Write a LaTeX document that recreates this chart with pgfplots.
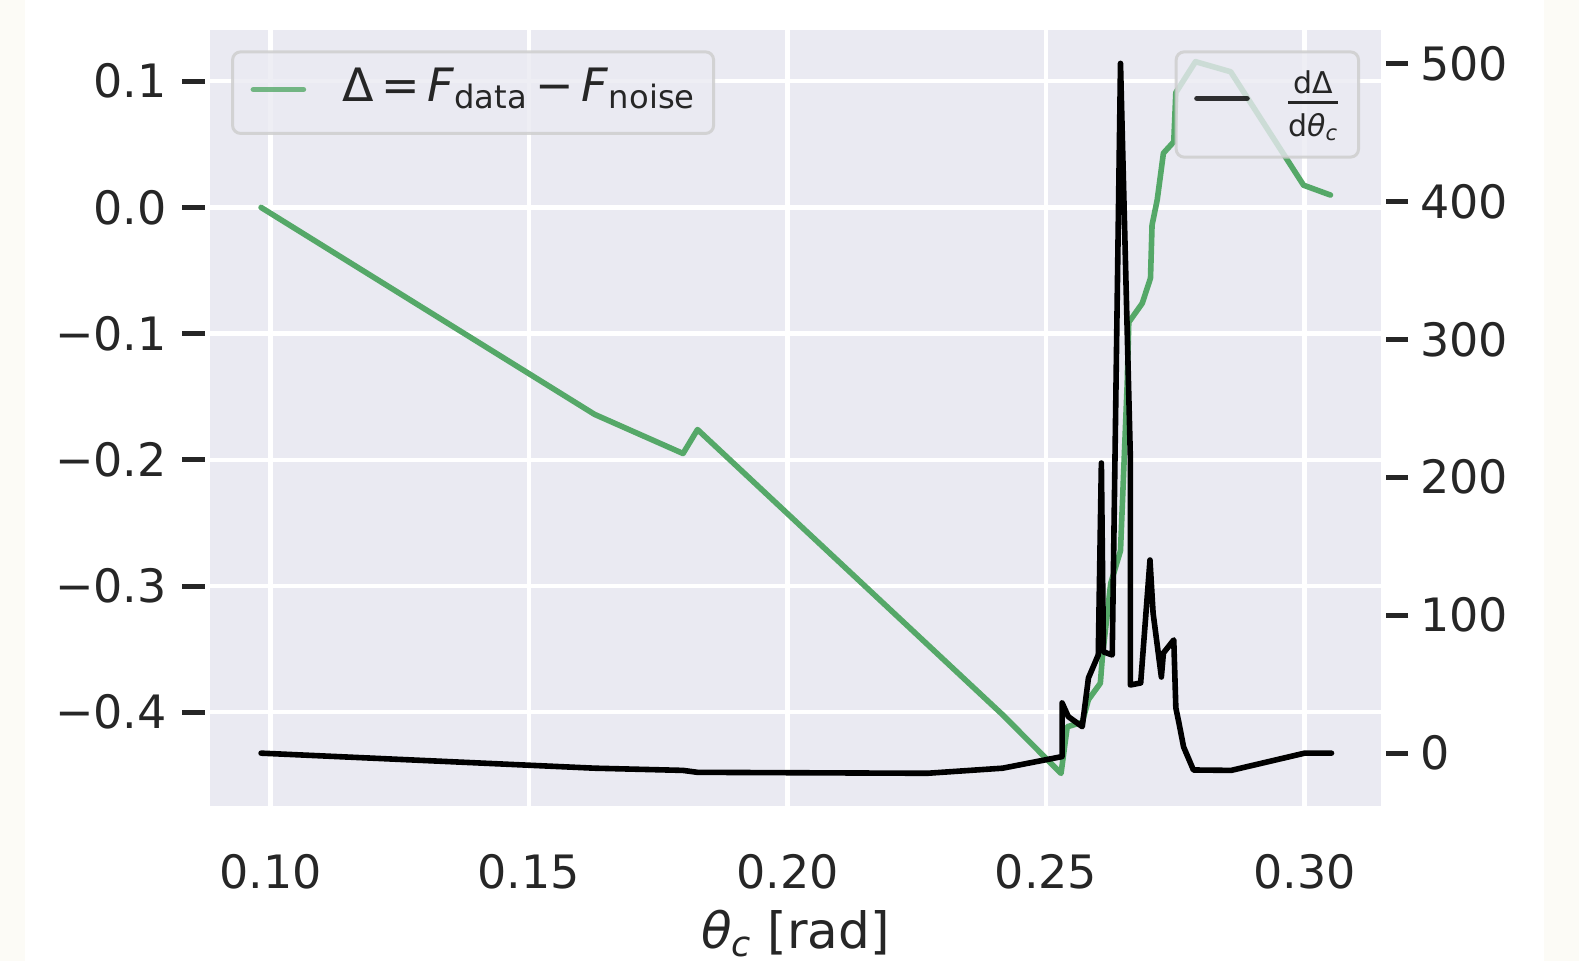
\documentclass[border=0pt]{standalone}
\usepackage{amsmath}
\usepackage{pgfplots}
\pgfplotsset{compat=1.18}
\usepackage{fontspec}
\setmainfont{DejaVu Sans}
\definecolor{bg}{HTML}{EAEAF2}
\definecolor{sgreen}{HTML}{55A868}
\definecolor{txt}{HTML}{262626}
\definecolor{leg}{HTML}{CCCCCC}
\definecolor{edgecol}{HTML}{FCFBF6}
\newcommand{\fsz}{\fontsize{23}{27.6}\selectfont}
\newcommand{\fsl}{\fontsize{25}{30}\selectfont}
\newcommand{\fss}{\fontsize{15}{18}\selectfont}

\pgfplotsset{
 common/.style={
  at={(0pt,0pt)}, anchor=south west, scale only axis, width=585pt, height=388pt,
  xmin=0.08842, xmax=0.31468,
  axis line style={draw=none},
  tick align=outside, major tick length=11.35pt,
  every tick/.style={txt, line width=2.5pt},
  ticklabel style={font=\fsz, text=txt},
  legend cell align=left,
 },
 legbox/.style={fill=bg, fill opacity=0.8, draw=leg, draw opacity=0.8, text opacity=1,
   rounded corners=4pt, line width=1.5pt, inner xsep=9pt, inner ysep=8pt,
   nodes={inner sep=0pt}, font=\fsz, text=txt,
   /tikz/every odd column/.append style={column sep=18pt}},
}

\begin{document}
\begin{tikzpicture}
\useasboundingbox (-105.25pt,-77.5pt) rectangle (684.25pt,403pt);
\fill[white] (-105.25pt,-77.5pt) rectangle (684.25pt,403pt);
\fill[edgecol] (-105.25pt,-77.5pt) rectangle (-92.75pt,403pt);
\fill[edgecol] (666.75pt,-77.5pt) rectangle (684.25pt,403pt);

\begin{axis}[common,
 axis background/.style={fill=bg},
 ymin=-0.4743, ymax=0.1406,
 xtick={0.10,0.15,0.20,0.25,0.30},
 xticklabels={0.10,0.15,0.20,0.25,0.30},
 ytick={-0.4,-0.3,-0.2,-0.1,0,0.1},
 yticklabels={−0.4,−0.3,−0.2,−0.1,0.0,0.1},
 ytick pos=left,
 grid=major, grid style={white, line width=2.2pt},
 xtick style={draw=none},
 ytick style={xshift=-2.85pt},
 xticklabel style={anchor=base, inner sep=0pt, yshift=-29.8pt},
 yticklabel style={anchor=east, inner sep=0pt, xshift=-10.3pt},
 xlabel={\textit{θ}\textsubscript{\textit{c}} [rad]},
 xlabel style={at={(axis description cs:0.5,0)}, anchor=base, yshift=-71.5pt, font=\fsl, text=txt},
 legend image code/.code={\draw[#1] (0pt,1.5pt) -- (25pt,1.5pt);},
 legend style={legbox, at={(0,1)}, anchor=north west, xshift=10.3pt, yshift=-10.2pt},
]
\addplot[sgreen, line width=2.8pt, line join=round, line cap=round] coordinates {
(0.0982,0.0) (0.1627,-0.164) (0.1798,-0.195) (0.1826,-0.176) (0.2416,-0.402)
(0.2529,-0.4485) (0.2541,-0.4115) (0.2570,-0.408) (0.2582,-0.390) (0.2605,-0.377)
(0.2609,-0.356) (0.2625,-0.298) (0.2644,-0.272) (0.2657,-0.139) (0.2660,-0.091)
(0.2686,-0.076) (0.2702,-0.056) (0.2705,-0.014) (0.2715,0.006) (0.2727,0.043)
(0.2747,0.052) (0.2751,0.091) (0.2789,0.1155) (0.2857,0.1075) (0.2998,0.0176)
(0.3050,0.0098)
};
\addlegendentry{\raisebox{6.5pt}{Δ\,=\,\textit{F}\textsubscript{data}\,−\,\textit{F}\textsubscript{noise}}}
\end{axis}

\begin{axis}[common,
 ymin=-38.3, ymax=524.2,
 axis x line=none, axis y line*=right,
 ytick={0,100,200,300,400,500},
 yticklabels={0,100,200,300,400,500},
 ytick style={xshift=2.5pt},
 yticklabel style={anchor=west, inner sep=0pt, xshift=8.3pt},
 legend image code/.code={\draw[#1] (0pt,3pt) -- (25pt,3pt);},
 legend style={legbox, at={(1,1)}, anchor=north east, xshift=-10.25pt, yshift=-10.2pt, inner ysep=9.5pt},
]
\addplot[black, line width=2.8pt, line join=round, line cap=round] coordinates {
(0.0982,0) (0.1627,-10.9) (0.1798,-12.5) (0.1826,-13.9) (0.2270,-14.6)
(0.2416,-10.9) (0.2531,-2.5) (0.2531,36.4) (0.2543,26.5) (0.2570,19.2)
(0.2582,54.5) (0.2601,71.2) (0.2607,210.3) (0.2611,73.4) (0.2628,71.2)
(0.2644,500) (0.2663,214.9) (0.2663,49.4) (0.2683,50.9) (0.2701,140.0)
(0.2707,101.6) (0.2723,55.2) (0.2727,72.6) (0.2747,82.1) (0.2751,32.8)
(0.2757,21.9) (0.2766,4.5) (0.2785,-12.2) (0.2858,-12.5) (0.3000,0) (0.3052,0)
};
\addlegendentry{\raisebox{10pt}{$\genfrac{}{}{1.2pt}{1}{\mbox{\fss dΔ\rule[-2.7pt]{0pt}{0pt}}}{\mbox{\fss d\textit{θ}\textsubscript{\textit{c}}\rule{0pt}{15.1pt}}}$}}
\end{axis}
\end{tikzpicture}
\end{document}
